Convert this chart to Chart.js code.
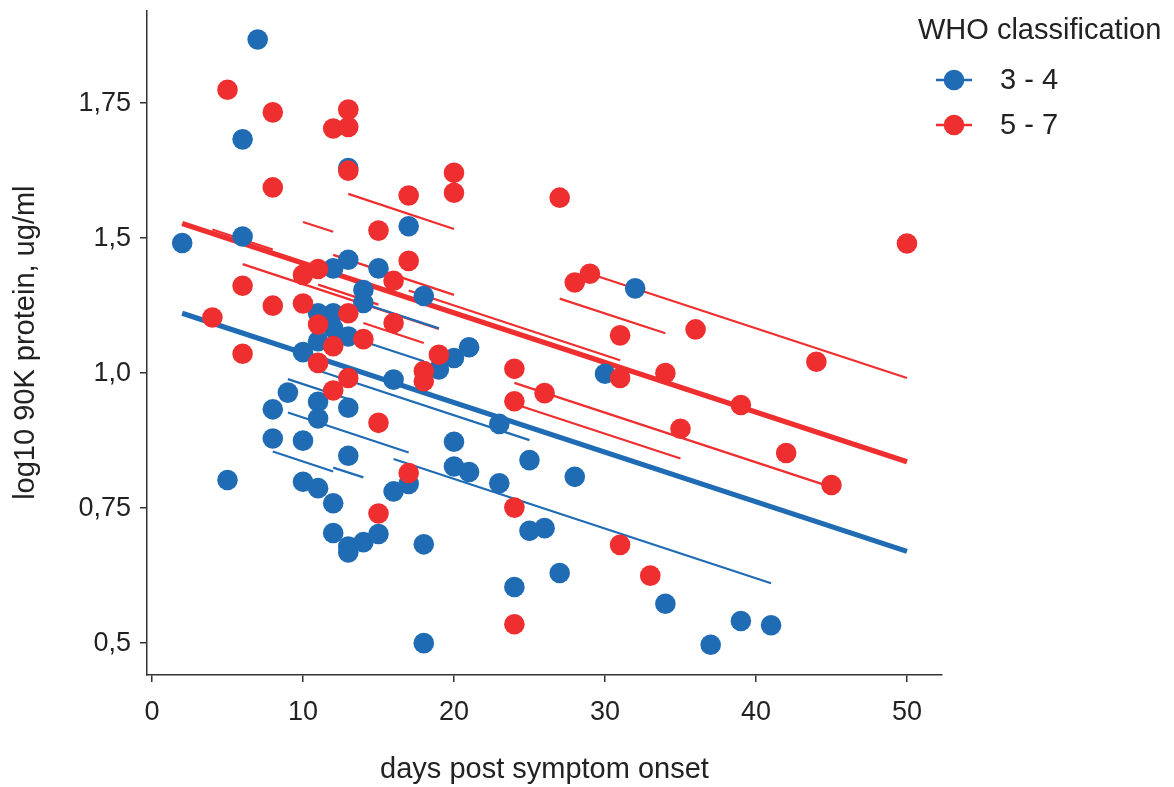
<!DOCTYPE html>
<html><head><meta charset="utf-8">
<script src="https://cdn.jsdelivr.net/npm/chart.js@4.4.0/dist/chart.umd.min.js"></script>
<style>html,body{margin:0;padding:0;background:#fff;}#wrap{width:1174px;height:787px;position:relative;}</style>
</head><body><div id="wrap"><canvas id="c" width="1174" height="787"></canvas></div>
<script>
// ---- data ----
const groupLabels = ['3 - 4', '5 - 7'];
const legendTitle = 'WHO classification';
const xTitle = 'days post symptom onset';
const yTitle = 'log10 90K protein, ug/ml';
const xTickValues = [0, 10, 20, 30, 40, 50];
const yTickValues = [0.5, 0.75, 1.0, 1.25, 1.5];
const yTickLabels = ['0,5', '0,75', '1,0', '1,5', '1,75'];

const blueDays = [7,6,13,17,6,2,13,12,15,14,14,18,11,12,12,13,11,10,16,9,11,8,13,11,8,10,13,5,10,11,12,16,17,12,13,13,14,15,18,18,32,19,20,21,30,23,20,25,20,21,28,23,25,26,27,24,34,39,41,37];
const blueValues = [1.618,1.433,1.380,1.272,1.253,1.241,1.210,1.194,1.194,1.154,1.130,1.143,1.111,1.111,1.083,1.068,1.059,1.039,0.988,0.964,0.947,0.933,0.936,0.916,0.879,0.875,0.847,0.802,0.799,0.787,0.759,0.781,0.795,0.704,0.679,0.668,0.687,0.702,0.683,0.500,1.157,1.007,1.028,1.048,0.999,0.906,0.873,0.839,0.827,0.817,0.808,0.796,0.708,0.713,0.630,0.604,0.573,0.541,0.533,0.497];

const redDays = [5,8,13,12,13,13,8,17,15,20,20,27,50,6,8,10,10,11,17,16,13,11,14,16,12,4,6,11,13,12,18,18,15,17,15,28,29,31,36,19,24,31,34,26,24,35,24,31,33,24,45,44,39,42];
const redValues = [1.525,1.483,1.488,1.453,1.456,1.375,1.344,1.329,1.264,1.371,1.334,1.325,1.240,1.162,1.125,1.129,1.182,1.193,1.208,1.171,1.111,1.090,1.063,1.093,1.050,1.103,1.036,1.019,0.991,0.968,1.004,0.985,0.908,0.815,0.740,1.168,1.184,1.070,1.081,1.034,1.008,0.991,1.000,0.963,0.948,0.897,0.751,0.682,0.625,0.535,0.793,1.021,0.941,0.852];

// group fits: [startDay, endDay, startValue, endValue]
const blueFit = [2, 50, 1.111, 0.670];
const redFit = [2, 50, 1.277, 0.836];

// individual fitted lines: [startDay, endDay, startValue, endValue]
const blueLines = [
  [11, 25, 1.005, 0.876],
  [9, 17, 0.927, 0.853],
  [8, 12, 0.855, 0.818],
  [12, 14, 0.825, 0.807],
  [16, 41, 0.841, 0.611],
  [14, 19, 1.129, 1.083],
  [13, 18, 1.068, 1.022],
  [11, 14, 1.093, 1.065],
  [9, 13, 0.989, 0.952]
];
const redLines = [
  [4, 8, 1.266, 1.229],
  [10, 12, 1.280, 1.262],
  [13, 20, 1.332, 1.267],
  [6, 19, 1.202, 1.082],
  [12, 20, 1.219, 1.145],
  [11, 15, 1.164, 1.127],
  [17, 31, 1.153, 1.024],
  [14, 18, 1.093, 1.056],
  [27, 34, 1.138, 1.074],
  [29, 50, 1.184, 0.991],
  [24, 45, 0.982, 0.789],
  [24, 35, 0.943, 0.842]
];

// ---- styles ----
const BLUE = '#1f6bb4';
const RED = '#ee2e2f';
const FONT = '"Liberation Sans", Arial, Helvetica, sans-serif';
const TXT = '#222222';

function seg(s, color, width, order) {
  return {
    type: 'line',
    data: [{x: s[0], y: s[2]}, {x: s[1], y: s[3]}],
    borderColor: color, borderWidth: width, pointRadius: 0,
    fill: false, tension: 0, order: order, borderCapStyle: 'butt'
  };
}
const datasets = [];
blueLines.forEach(s => datasets.push(seg(s, BLUE, 2.2, 5)));
redLines.forEach(s => datasets.push(seg(s, RED, 2.2, 5)));
datasets.push(seg(blueFit, BLUE, 5.2, 4));
datasets.push(seg(redFit, RED, 5.2, 4));
datasets.push({
  type: 'scatter', label: groupLabels[0],
  data: blueDays.map((d, i) => ({x: d, y: blueValues[i]})),
  backgroundColor: BLUE, borderWidth: 0, pointRadius: 10.3, order: 2
});
datasets.push({
  type: 'scatter', label: groupLabels[1],
  data: redDays.map((d, i) => ({x: d, y: redValues[i]})),
  backgroundColor: RED, borderWidth: 0, pointRadius: 10.3, order: 1
});

const legendPlugin = {
  id: 'whoLegend',
  afterDraw(chart) {
    const ctx = chart.ctx;
    ctx.save();
    ctx.font = '29px ' + FONT;
    ctx.textBaseline = 'middle';
    ctx.textAlign = 'left';
    ctx.fillStyle = TXT;
    ctx.fillText(legendTitle, 918, 31);
    const cols = [BLUE, RED];
    groupLabels.forEach((lab, i) => {
      const y = 80 + i * 45;
      ctx.strokeStyle = cols[i]; ctx.lineWidth = 2.5;
      ctx.beginPath(); ctx.moveTo(936, y); ctx.lineTo(972, y); ctx.stroke();
      ctx.fillStyle = cols[i];
      ctx.beginPath(); ctx.arc(954, y, 10.3, 0, Math.PI * 2); ctx.fill();
      ctx.fillStyle = TXT;
      ctx.fillText(lab, 1000, y + 1);
    });
    ctx.restore();
  }
};

new Chart(document.getElementById('c'), {
  data: {datasets: datasets},
  plugins: [legendPlugin],
  options: {
    responsive: false, animation: false, devicePixelRatio: 1,
    layout: {padding: {top: 8, right: 232, left: 0, bottom: 0}},
    plugins: {legend: {display: false}, tooltip: {enabled: false}},
    scales: {
      x: {
        type: 'linear', position: 'bottom', min: -0.331, max: 52.32,
        afterBuildTicks: s => { s.ticks = xTickValues.map(v => ({value: v})); },
        afterFit: s => { s.height = 112; s.paddingLeft = 0; s.paddingRight = 0; },
        ticks: {font: {size: 27, family: FONT}, color: TXT, padding: 14, autoSkip: false, maxRotation: 0,
                callback: v => String(v)},
        grid: {display: true, drawOnChartArea: false, drawTicks: true, tickLength: 7, color: '#333', lineWidth: 1.5},
        border: {display: true, color: '#333', width: 1.5},
        title: {display: true, text: xTitle, font: {size: 29, family: FONT}, color: TXT, padding: {top: 0, bottom: 0}}
      },
      y: {
        type: 'linear', position: 'left', min: 0.441, max: 1.672,
        afterBuildTicks: s => { s.ticks = yTickValues.map(v => ({value: v})); },
        afterFit: s => { s.width = 147; s.paddingTop = 0; s.paddingBottom = 0; },
        ticks: {font: {size: 27, family: FONT}, color: TXT, padding: 9, autoSkip: false,
                callback: (v, i) => yTickLabels[i]},
        grid: {display: true, drawOnChartArea: false, drawTicks: true, tickLength: 7, color: '#333', lineWidth: 1.5},
        border: {display: true, color: '#333', width: 1.5},
        title: {display: true, text: yTitle, font: {size: 29, family: FONT}, color: TXT, padding: {top: 9, bottom: 0}}
      }
    }
  }
});
</script></body></html>
